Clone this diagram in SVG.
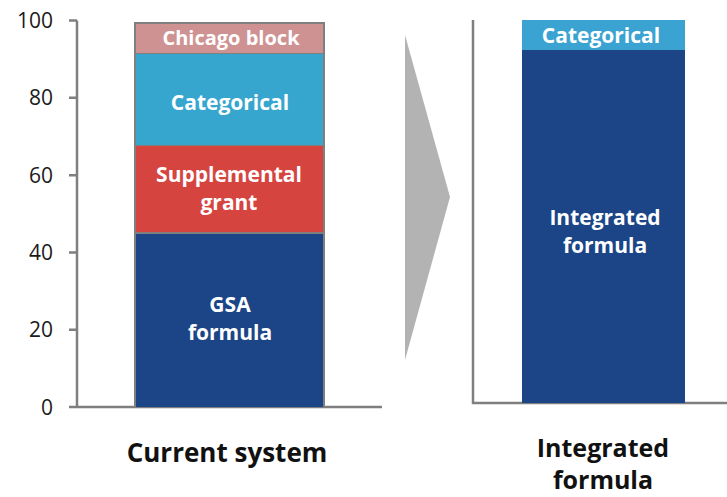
<svg xmlns="http://www.w3.org/2000/svg" width="727" height="497" viewBox="0 0 727 497">
<style>
.ax{stroke:#7f7f7f;stroke-width:2.5;fill:none}
.tick{font-family:"Open Sans","Liberation Sans",sans-serif;font-size:21px;fill:#1a1a1a;text-anchor:end}
.in{font-family:"Open Sans","Liberation Sans",sans-serif;font-weight:bold;font-size:21px;fill:#ffffff;text-anchor:middle}
.cat{font-family:"Open Sans","Liberation Sans",sans-serif;font-weight:bold;font-size:26px;fill:#111111;text-anchor:middle}
</style>
<rect width="727" height="497" fill="#ffffff"/>
<g id="left-axis">
<path class="ax" d="M77 20.5V407M69 407H382M69 20.5H77M69 97.8H77M69 175.2H77M69 252.5H77M69 329.8H77"/>
<text class="tick" x="53" y="28">100</text>
<text class="tick" x="53" y="105">80</text>
<text class="tick" x="53" y="183">60</text>
<text class="tick" x="53" y="260">40</text>
<text class="tick" x="53" y="337">20</text>
<text class="tick" x="53" y="415">0</text>
</g>
<g id="current-bar">
<rect x="134" y="22" width="191" height="385" fill="#7f7f7f"/>
<rect x="136" y="24" width="187" height="29" fill="#cf9292"/>
<rect x="136" y="54" width="187" height="91" fill="#36a6cf"/>
<rect x="136" y="146" width="187" height="86" fill="#d6443f"/>
<rect x="136" y="234" width="187" height="173" fill="#1b4586"/>
<text class="in" x="231" y="45" style="font-size:20px">Chicago block</text>
<text class="in" x="230" y="110">Categorical</text>
<text class="in" x="229" y="182">Supplemental</text>
<text class="in" x="229" y="210">grant</text>
<text class="in" x="230" y="312">GSA</text>
<text class="in" x="230" y="340">formula</text>
</g>
<g id="arrow">
<polygon points="405,35 450,197 405,360" fill="#b3b3b3"/>
</g>
<g id="right-axis">
<path class="ax" d="M473 20V403H727"/>
</g>
<g id="integrated-bar">
<rect x="522" y="20" width="163" height="31" fill="#3ba3d1"/>
<rect x="522" y="50" width="163" height="353" fill="#1b4586"/>
<text class="in" x="601" y="43">Categorical</text>
<text class="in" x="605" y="225">Integrated</text>
<text class="in" x="605" y="253">formula</text>
</g>
<g id="labels">
<text class="cat" x="227" y="462">Current system</text>
<text class="cat" x="603" y="457" style="font-size:25px">Integrated</text>
<text class="cat" x="603" y="489" style="font-size:25px">formula</text>
</g>
</svg>
